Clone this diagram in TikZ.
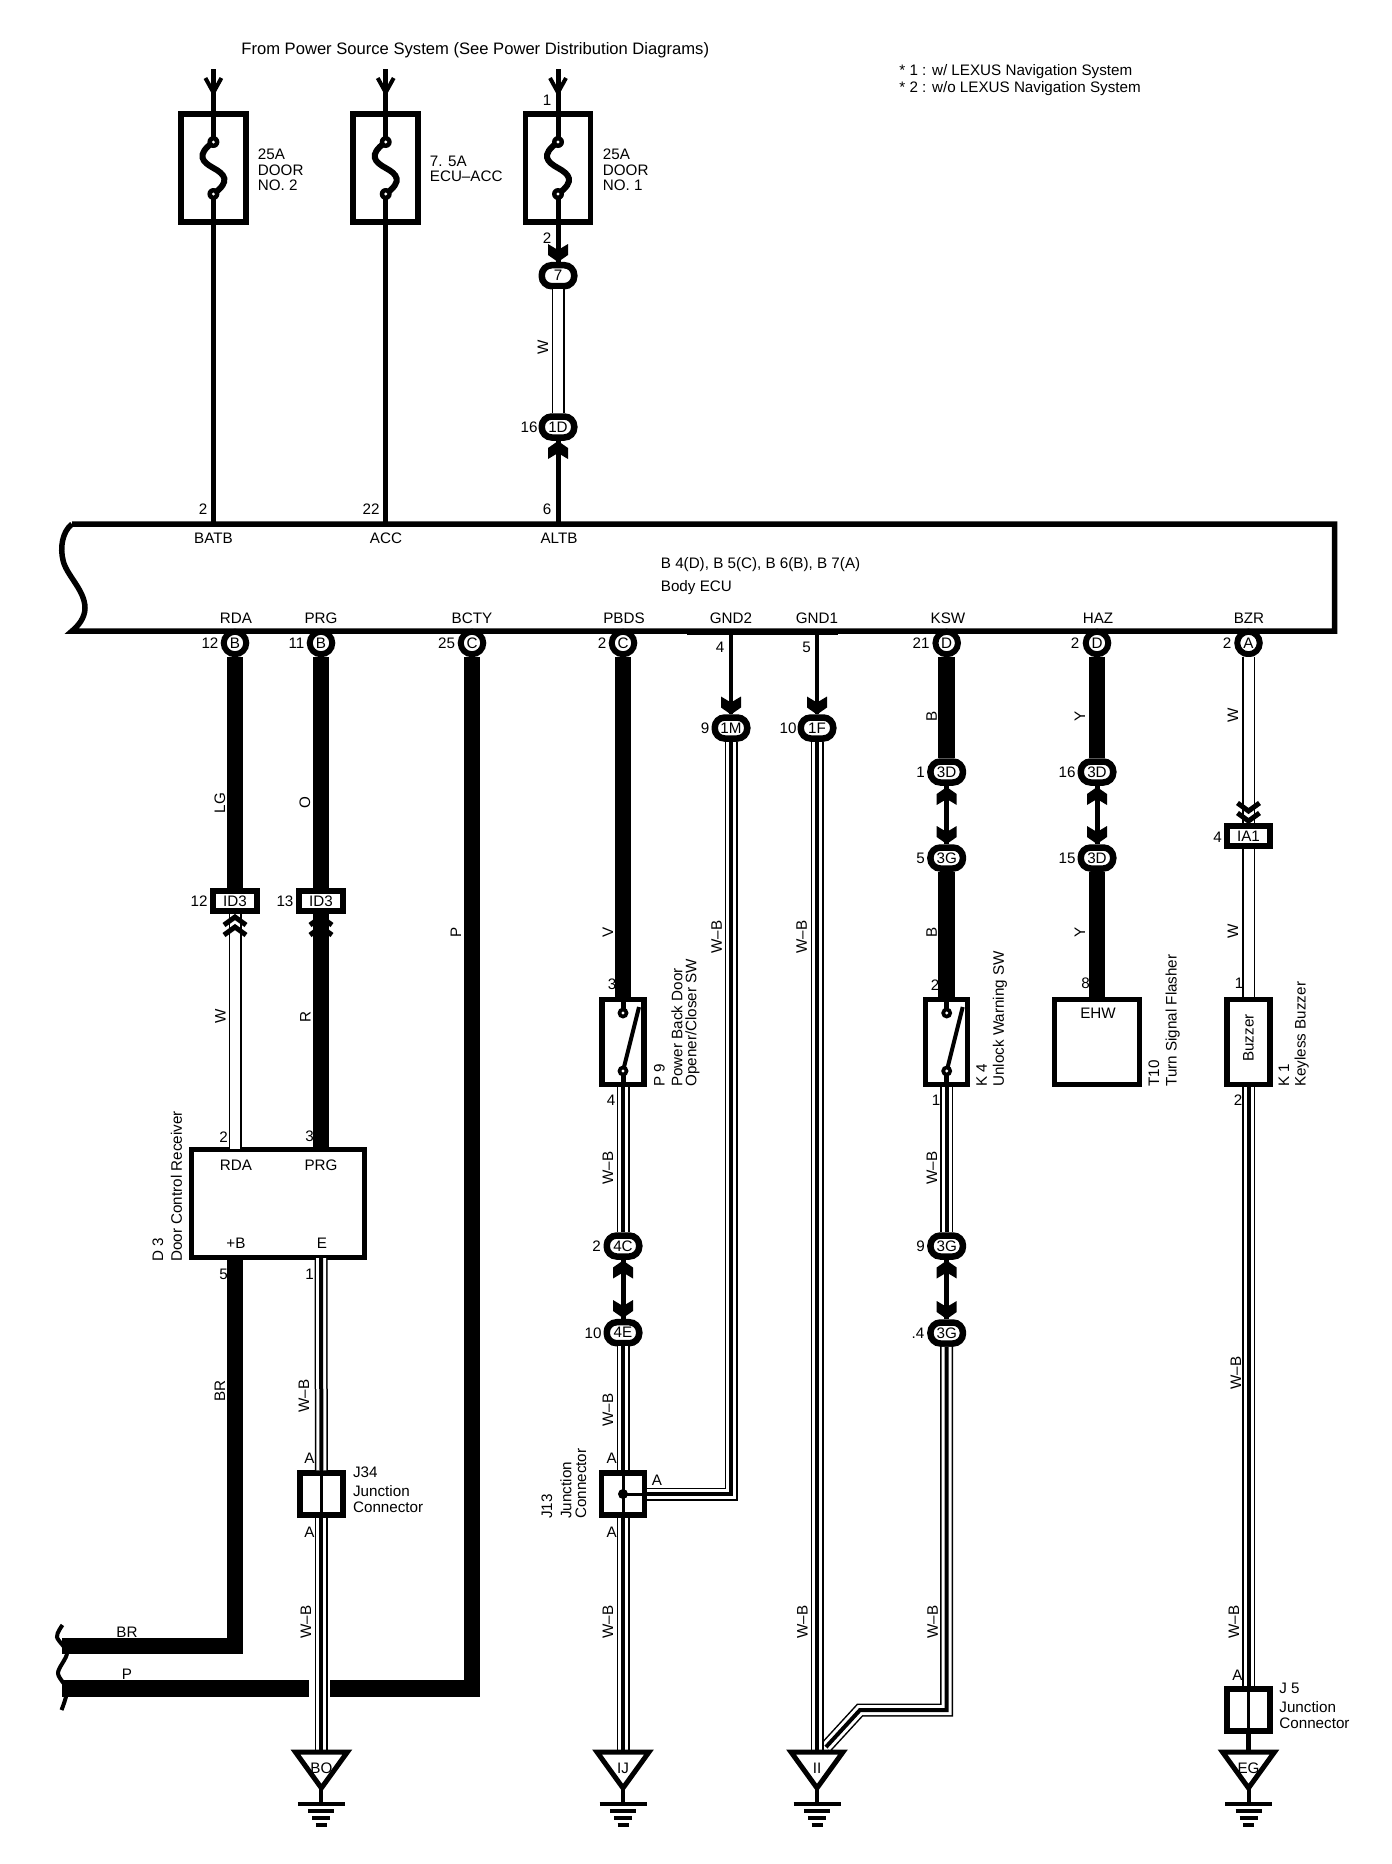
\documentclass[tikz,border=0pt]{standalone}
\usepackage{fontspec}
\setmainfont{Liberation Sans}
\tikzset{
  lab/.style={font=\fontsize{7.6}{7.75}\selectfont,inner sep=0pt},
  rotlab/.style={lab,rotate=90,anchor=west},
  wirelab/.style={lab,rotate=90},
  wirethin/.style={line width=2.5pt},
  wirepin/.style={line width=2pt},
  wirethick/.style={line width=8.25pt},
  wirew/.style={preaction={draw,line width=6.5pt},draw=white,line width=5pt},
  wirewb/.style={preaction={draw,line width=6.5pt},preaction={draw,white,line width=5pt},draw,line width=2pt},
  boxnode/.style={draw,line width=2.75pt,fill=white,inner sep=0pt},
  oval/.style={boxnode,lab,line width=3.25pt,minimum width=16.25pt,minimum height=10.5pt,rounded corners=5pt},
  term/.style={boxnode,lab,circle,line width=3pt,minimum size=11.25pt},
  tag/.style={boxnode,lab,line width=3pt,minimum height=10pt},
  chevdn/.pic={\fill (-10,-9) -- (-10,2) -- (0,9) -- (10,2) -- (10,-9) -- (0,-3) -- cycle;},
  chevup/.pic={\fill (-10,9) -- (-10,-2) -- (0,-9) -- (10,-2) -- (10,9) -- (0,3) -- cycle;},
  dblup/.pic={\draw[line width=2.5pt] (-11,-1) -- (0,-9) -- (11,-1) (-11,9) -- (0,1) -- (11,9);},
  dbldn/.pic={\draw[line width=2.5pt] (-11,1) -- (0,9) -- (11,1) (-11,-9) -- (0,-1) -- (11,-9);}
}
\begin{document}
\begin{tikzpicture}[x=0.5pt,y=-0.5pt]
  \useasboundingbox (0,0) rectangle (1392,1864);

  %texts on top
  \node[lab,anchor=west,font=\fontsize{8.3}{10}\selectfont] (title) at (241,50) {From Power Source System (See Power Distribution Diagrams)};
  \node[lab,anchor=west] (notea) at (899,71.5) {* 1 : w/ LEXUS Navigation System};
  \node[lab,anchor=west] (noteb) at (899,89) {* 2 : w/o LEXUS Navigation System};

  %body ecu
  \draw[line width=2.75pt] (72,524) -- (1334.5,524) -- (1334.5,631) -- (72,631)
    .. controls (78,626) and (85,618) .. (85,608)
    .. controls (85,590) and (66,575) .. (63,560)
    .. controls (60,548) and (62,532) .. (72,524);
  \draw[line width=2pt] (687,633) -- (838,633);
  \node[lab,anchor=west,align=left] (ecuname) at (660.5,576)
    {B 4(D), B 5(C), B 6(B), B 7(A)\\[4pt]Body ECU};
  \foreach \n/\x in {batb/213.4,acc/385.7,altb/558}
    \coordinate (\n) at (\x,524);
  \coordinate (gndtwo) at (731,631);
  \coordinate (gndone) at (817,631);
  \foreach \i/\x/\y/\t in {a/213.4/538/BATB,b/386/538/ACC,c/559/538/ALTB,d/236/618/RDA,e/321/618/PRG,
    f/472/618/BCTY,g/624/618/PBDS,h/731/618/GND2,i/817/618/GND1,j/948/618/KSW,k/1098/618/HAZ,l/1249/618/BZR}
    \node[lab] (pin\i) at (\x,\y) {\t};

  %fuses
  \foreach \n/\x in {a/213.4,b/385.7,c/558}{
    \coordinate (top\n) at (\x,69);
    \node[boxnode,minimum width=32.5pt,minimum height=54pt] (fuse\n) at (\x,168) {};
    \draw[wirethin] (top\n) -- (\x,139);
    \draw[wirethin] (\x,196) -- (fuse\n.south);
    \draw[line width=2pt] (\x,77) -- (\x,92) (\x-8,78) -- (\x,92.5) -- (\x+8,78);
    \draw[line width=3pt] (\x,142) .. controls (\x-18,155) and (\x-11,162) .. (\x,168)
      .. controls (\x+11,174) and (\x+18,181) .. (\x,194);
    \fill (\x,142) circle (3pt) (\x,194) circle (3pt);
    \fill[white] (\x,142) circle (0.8pt) (\x,194) circle (0.8pt);
  }
  \node[lab,anchor=west,align=left] (fusetxta) at (257.5,170) {25A\\DOOR\\NO. 2};
  \node[lab,anchor=west,align=left] (fusetxtb) at (429.5,169) {7. 5A\\ECU--ACC};
  \node[lab,anchor=west,align=left] (fusetxtc) at (602.5,170) {25A\\DOOR\\NO. 1};

  %round and long connectors
  \foreach \n/\x/\y/\t in {c7/558/275.7/7,c1d/558/427/1D,c1m/731/728/1M,c1f/817/728/1F,
    c3da/946.7/772/3D,c3ga/946.7/858/3G,c3db/1097/772/3D,c3dc/1097/858/3D,
    c4c/623/1246/4C,c4e/623/1332.7/4E,c3gb/946.7/1246/3G,c3gc/946.7/1333/3G}
    \node[oval] (\n) at (\x,\y) {\t};
  \foreach \n/\x/\t in {trda/235/B,tprg/321/B,tbcty/472/C,tpbds/623/C,tksw/946.7/D,thaz/1097/D,tbzr/1248.5/A}
    \node[term] (\n) at (\x,643) {\t};
  \node[tag,minimum width=22pt] (ida) at (235,901) {ID3};
  \node[tag,minimum width=22pt] (idb) at (321,901) {ID3};
  \node[tag,minimum width=21.5pt] (iaa) at (1248.5,836) {IA1};

  %boxes
  \node[boxnode,minimum width=86.5pt,minimum height=54pt] (dthree) at (278,1203.5) {};
  \node[boxnode,minimum width=21pt,minimum height=42.5pt] (pnine) at (623,1042) {};
  \node[boxnode,minimum width=21pt,minimum height=42.5pt] (kfour) at (946.7,1042) {};
  \node[boxnode,minimum width=42.5pt,minimum height=42.5pt] (tten) at (1097,1042) {};
  \node[boxnode,minimum width=21.5pt,minimum height=42.5pt] (kone) at (1248.5,1042) {};
  \node[boxnode,minimum width=21.5pt,minimum height=21pt] (jthree) at (321.4,1494) {};
  \node[boxnode,minimum width=21.5pt,minimum height=21pt] (jone) at (623,1494) {};
  \node[boxnode,minimum width=21.5pt,minimum height=21pt] (jfive) at (1248.5,1710) {};
  \coordinate (drda) at (235,1149);
  \coordinate (dprg) at (321,1149);
  \coordinate (dplus) at (235,1258);
  \coordinate (dgnd) at (321,1258);
  \coordinate (brend) at (62,1646);
  \coordinate (pend) at (62,1688.5);
  \coordinate (pgapa) at (319,1679);
  \coordinate (pgapb) at (319,1698);
  \foreach \n/\x in {bo/321.4,ij/623,ii/817,eg/1248.5}
    \coordinate (gnd\n) at (\x,1752);
  \coordinate (benda) at (946.7,1710);
  \coordinate (bendb) at (860,1710);
  \coordinate (bendc) at (826,1747);

  %wires
  \draw[wirethin] (fusea.south) -- (batb);
  \draw[wirethin] (fuseb.south) -- (acc);
  \draw[wirethin] (fusec.south) -- (c7.north);
  \draw[wirew] (c7.south) -- (c1d.north);
  \draw[wirethin] (c1d.south) -- (altb);
  \draw[wirepin] (gndtwo) -- (c1m.north);
  \draw[wirepin] (gndone) -- (c1f.north);
  \draw[wirethick] (trda.south) -- (ida.north);
  \draw[wirethick] (tprg.south) -- (idb.north);
  \draw[wirew] (ida.south) -- (drda);
  \draw[wirethick] (idb.south) -- (dprg);
  \draw[wirethick] (dplus) |- (brend);
  \draw[wirethick] (tbcty.south) |- (pend);
  \draw[white,line width=10.5pt] (pgapa) -- (pgapb);
  \draw[wirewb] (dgnd) -- (jthree.north);
  \draw[wirewb] (jthree.south) -- (gndbo);
  \draw[wirethick] (tpbds.south) -- (pnine.north);
  \draw[wirewb] (pnine.south) -- (c4c.north);
  \draw[wirethin] (c4c.south) -- (c4e.north);
  \draw[wirewb] (c4e.south) -- (jone.north);
  \draw[wirewb] (jone.south) -- (gndij);
  \draw[wirewb] (c1m.south) |- (jone.east);
  \draw[wirewb] (c3gc.south) -- (benda) -- (bendb) -- (bendc);
  \draw[wirewb] (c1f.south) -- (gndii);
  \draw[wirethick] (tksw.south) -- (c3da.north);
  \draw[wirethin] (c3da.south) -- (c3ga.north);
  \draw[wirethick] (c3ga.south) -- (kfour.north);
  \draw[wirewb] (kfour.south) -- (c3gb.north);
  \draw[wirethin] (c3gb.south) -- (c3gc.north);
  \draw[wirethick] (thaz.south) -- (c3db.north);
  \draw[wirethin] (c3db.south) -- (c3dc.north);
  \draw[wirethick] (c3dc.south) -- (tten.north);
  \draw[wirew] (tbzr.south) -- (iaa.north);
  \draw[wirew] (iaa.south) -- (kone.north);
  \draw[wirewb] (kone.south) -- (jfive.north);
  \draw[wirethin] (jfive.south) -- (gndeg);

  %arrow heads
  \foreach \x/\y in {558/253,731/705.5,817/705.5,946.7/835,1097/835,623/1309,946.7/1310}
    \pic at (\x,\y) {chevdn};
  \foreach \x/\y in {558/450,946.7/796,1097/796,623/1269.5,946.7/1269.5}
    \pic at (\x,\y) {chevup};
  \pic at (235,926) {dblup};
  \pic at (321,926) {dblup};
  \pic at (1248.5,812) {dbldn};

  %switches
  \foreach \n/\x in {pnine/623,kfour/946.7}{
    \draw[wirethin] (\n.north) -- (\x,1013);
    \draw[wirethin] (\x,1071) -- (\n.south);
    \draw[line width=2pt] (\x,1071) -- (\x+16,1007);
    \fill (\x,1013) circle (2.75pt) (\x,1071) circle (2.75pt);
    \fill[white] (\x,1013) circle (0.8pt) (\x,1071) circle (0.8pt);
  }

  %junctions
  \draw[line width=1.5pt] (jthree.north) -- (jthree.south);
  \draw[line width=1.5pt] (jone.north) -- (jone.south);
  \draw[line width=1.5pt] (jfive.north) -- (jfive.south);
  \draw[line width=1.5pt] (jone.center) -- (jone.east);
  \fill (jone.center) circle (2.5pt);

  %grounds
  \foreach \n/\t in {bo/BO,ij/IJ,ii/II,eg/EG}{
    \draw[line width=2.5pt] ([xshift=-13pt]gnd\n) -- ([xshift=13pt]gnd\n) -- ([yshift=-18pt]gnd\n) -- cycle;
    \node[lab] (gtxt\n) at ([yshift=-8pt]gnd\n) {\t};
    \draw[line width=2pt] ([yshift=-18pt]gnd\n) -- ([yshift=-26pt]gnd\n);
    \draw[line width=2.25pt] ([xshift=-11.75pt,yshift=-26pt]gnd\n) -- ([xshift=11.75pt,yshift=-26pt]gnd\n);
    \draw[line width=2pt] ([xshift=-6.5pt,yshift=-29.5pt]gnd\n) -- ([xshift=6.5pt,yshift=-29.5pt]gnd\n);
    \draw[line width=2pt] ([xshift=-4.5pt,yshift=-33pt]gnd\n) -- ([xshift=4.5pt,yshift=-33pt]gnd\n);
    \draw[line width=2pt] ([xshift=-2.75pt,yshift=-36.5pt]gnd\n) -- ([xshift=2.75pt,yshift=-36.5pt]gnd\n);
  }

  %pin numbers
  \foreach \i/\x/\y/\t in {a/547/100/1,b/547/238/2,c/203/509/2,d/371/509/22,e/547/509/6,f/529/427/16,
    g/210/643/12,h/296.5/643/11,i/446.5/643/25,j/602/643/2,k/921/643/21,l/1075/643/2,m/1227/643/2,
    n/720/647.5/4,o/806.5/647.5/5,p/705/728/9,q/788/728/10,r/920.7/772/1,s/920.7/858/5,t/1067/772/16,
    u/1067/858/15,v/1217.7/837/4,w/199/901/12,x/285/901/13,y/223.6/1136.7/2,z/309.7/1136.7/3,
    aa/223.6/1274/5,ab/309.7/1274/1,ac/612/984/3,ad/611/1100/4,ae/935/985/2,af/936/1100/1,
    ag/1085.7/983/8,ah/1239/983/1,ai/1238/1100/2,aj/596.7/1246/2,ak/593/1333/10,al/920.7/1246/9,
    am/918/1333/.4,an/309.4/1458/A,ao/309.4/1532.7/A,ap/611.6/1458/A,aq/611.6/1532.7/A,
    ar/657/1480/A,as/1237.5/1675/A}
    \node[lab] (num\i) at (\x,\y) {\t};

  %wire colours
  \foreach \i/\x/\y/\t in {a/543/347/W,b/220/803/LG,c/305/803/O,d/220.5/1016/W,e/305.5/1017/R,f/456/932/P,
    g/608/932/V,h/716.7/937/W--B,i/801.7/937/W--B,j/931.7/716/B,k/1080/716/Y,l/1233/715/W,m/931.7/932/B,
    n/1080/932/Y,o/1233/931/W,p/608/1168/W--B,q/932/1168/W--B,r/304/1396/W--B,s/220/1391/BR,
    t/608/1410/W--B,u/1236/1373/W--B,v/305.8/1622/W--B,w/608/1622/W--B,x/802.4/1622/W--B,
    y/932.6/1622/W--B,z/1234/1622/W--B}
    \node[wirelab] (col\i) at (\x,\y) {\t};
  \node[lab] (colbr) at (127,1632) {BR};
  \node[lab] (colp) at (127,1674) {P};

  %wire ends on the left
  \draw[line width=2pt] plot[smooth] coordinates {(62.5,1625) (57,1637) (67,1653) (58,1673) (67,1690) (61.5,1710)};

  %texts in the boxes
  \node[lab] (drdatxt) at (236,1165) {RDA};
  \node[lab] (dprgtxt) at (321,1165) {PRG};
  \node[lab] (dplustxt) at (236,1243) {+B};
  \node[lab] (dgndtxt) at (322,1243) {E};
  \node[lab] (ttentxt) at (1098,1013) {EHW};
  \node[lab,rotate=90] (konetxt) at (1248.5,1038) {Buzzer};

  %part names
  \foreach \i/\x/\y/\t in {a/158/1262/D 3,b/176.5/1262/Door Control Receiver,c/659.5/1087/P 9,d/677/1087/Power Back Door,
    f/981.7/1087/K 4,g/1000/1087/Unlock Warning SW,h/1154/1087/T10,i/1172.7/1087/Turn Signal Flasher,
    j/1284/1087/K 1,k/1301.7/1087/Keyless Buzzer,l/547/1519/J13,m/566/1519/Junction,n/581/1519/Connector}
    \node[rotlab] (part\i) at (\x,\y) {\t};
  \node[rotlab] (parte) at (692.4,1087) {Opener/Closer SW};
  \node[lab,anchor=west] (jthreea) at (352.7,1472) {J34};
  \node[lab,anchor=west,align=left] (jthreeb) at (352.7,1499) {Junction\\[0.5pt]Connector};
  \node[lab,anchor=west] (jfivea) at (1279,1688) {J 5};
  \node[lab,anchor=west,align=left] (jfiveb) at (1279,1715) {Junction\\[0.5pt]Connector};
\end{tikzpicture}
\end{document}
